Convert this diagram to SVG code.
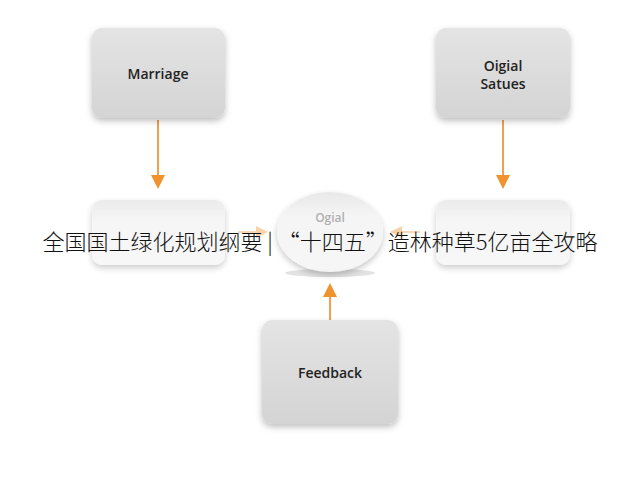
<svg xmlns="http://www.w3.org/2000/svg" width="640" height="480" viewBox="0 0 640 480">
<defs>
<linearGradient id="g" x1="0" y1="0" x2="0" y2="1"><stop offset="0" stop-color="#e4e4e4"/><stop offset="1" stop-color="#d4d4d4"/></linearGradient>
<linearGradient id="gf" x1="0" y1="0" x2="0" y2="1"><stop offset="0" stop-color="#e6e6e6"/><stop offset="0.3" stop-color="#f4f4f4"/><stop offset="1" stop-color="#f6f6f6"/></linearGradient>
<filter id="s" x="-20%" y="-20%" width="140%" height="150%"><feDropShadow dx="0" dy="3" stdDeviation="3" flood-color="#000" flood-opacity="0.25"/></filter>
<marker id="a" viewBox="0 0 10 10" refX="5" refY="5" markerWidth="16" markerHeight="14" markerUnits="userSpaceOnUse" orient="auto"><path d="M0,0 L10,5 L0,10 z" fill="#f0922e"/></marker>
<marker id="af" viewBox="0 0 10 10" refX="5" refY="5" markerWidth="14" markerHeight="12" markerUnits="userSpaceOnUse" orient="auto"><path d="M0,0 L10,5 L0,10 z" fill="#f8d2a8"/></marker>
</defs>
<style>
.lbl{font-family:"Open Sans","Liberation Sans",sans-serif;font-size:14px;font-weight:600;fill:#222;text-anchor:middle}
.c{stroke:#f0a050;stroke-width:2;fill:none}
.cf{stroke:#f8d8b8;stroke-width:2;fill:none}
</style>
<rect width="640" height="480" fill="#fff"/>
<g id="connectors">
<line class="c" x1="158" y1="120" x2="158" y2="182" marker-end="url(#a)"/>
<line class="c" x1="503" y1="120" x2="503" y2="182" marker-end="url(#a)"/>
<line class="c" x1="330" y1="320" x2="330" y2="290" marker-end="url(#a)"/>
<line class="cf" x1="238" y1="232" x2="262" y2="232" marker-end="url(#af)"/>
<line class="cf" x1="420" y1="232" x2="396" y2="232" marker-end="url(#af)"/>
</g>
<g id="marriage"><rect x="92" y="28" width="133" height="90" rx="10" fill="url(#g)" filter="url(#s)"/><text class="lbl" x="158" y="79">Marriage</text></g>
<g id="ogial-satues"><rect x="436" y="28" width="134" height="90" rx="10" fill="url(#g)" filter="url(#s)"/><text class="lbl" x="503" y="71">Oigial</text><text class="lbl" x="503" y="89">Satues</text></g>
<g id="left-mid"><rect x="92" y="200" width="133" height="65" rx="10" fill="url(#gf)" filter="url(#s)" opacity="0.8"/></g>
<g id="right-mid"><rect x="436" y="200" width="134" height="65" rx="10" fill="url(#gf)" filter="url(#s)" opacity="0.8"/></g>
<g id="ogial"><ellipse cx="330" cy="273" rx="45" ry="4" fill="#e2e2e2"/><ellipse cx="330" cy="232" rx="53" ry="40" fill="url(#gf)" filter="url(#s)" opacity="0.9"/><text class="lbl" x="330" y="222" style="fill:#b0b0b0;font-size:12px">Ogial</text></g>
<g id="feedback"><rect x="262" y="320" width="136" height="104" rx="10" fill="url(#g)" filter="url(#s)"/><text class="lbl" x="330" y="378">Feedback</text></g>
<text x="320" y="250" font-family="Noto Sans CJK SC,sans-serif" font-size="22" font-weight="300" fill="#111" text-anchor="middle">全国国土绿化规划纲要 |  “十四五”造林种草5亿亩全攻略</text>
</svg>
